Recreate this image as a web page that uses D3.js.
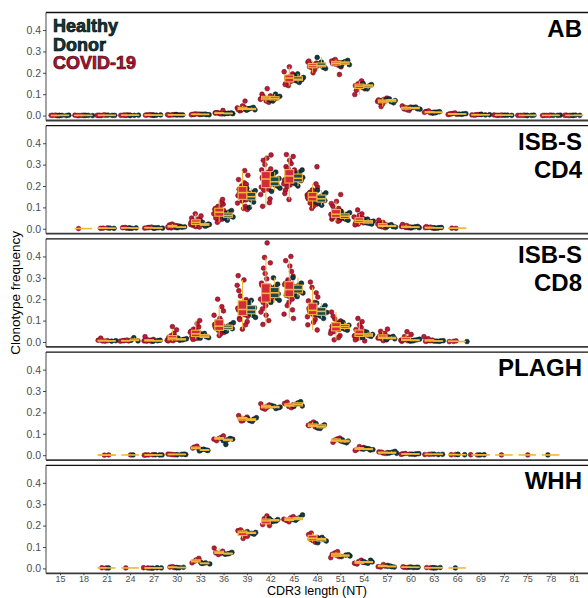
<!DOCTYPE html>
<html><head><meta charset="utf-8">
<script src="https://cdn.jsdelivr.net/npm/d3@7"></script>
<style>
body{margin:0;background:#fff}
svg{display:block}
text{font-family:"Liberation Sans",Arial,Helvetica,sans-serif}
</style>
</head><body>
<svg id="chart" width="588" height="598"></svg>
<script>
// CDR3 lengths (nucleotides) on the x axis
const lengths = [15,18,21,24,27,30,33,36,39,42,45,48,51,54,57,60,63,66,69,72,75,78,81];
const yTicks = [0, 0.1, 0.2, 0.3, 0.4];
const groupNames = ["COVID-19", "Healthy Donor"];

// Per-sample clonotype frequencies, keyed by CDR3 length
const abCovid = {
  15:[0.000,0.001,0.000,0.002,0.001,0.000], 18:[0.001,0.000,0.002,0.001,0.000,0.001],
  21:[0.001,0.002,0.000,0.001,0.003,0.001], 24:[0.002,0.001,0.003,0.002,0.000,0.001],
  27:[0.002,0.003,0.001,0.004,0.002,0.003], 30:[0.003,0.004,0.002,0.005,0.003,0.004],
  33:[0.006,0.005,0.008,0.004,0.007,0.005,0.006],
  36:[0.010,0.012,0.008,0.014,0.011,0.009,0.013,0.024],
  39:[0.030,0.026,0.036,0.040,0.022,0.033,0.045,0.028,0.068,0.031],
  42:[0.079,0.072,0.085,0.092,0.068,0.100,0.062,0.082,0.076,0.126,0.088],
  45:[0.173,0.165,0.182,0.150,0.195,0.140,0.205,0.160,0.178,0.188,0.228,0.145],
  48:[0.236,0.228,0.245,0.222,0.250,0.215,0.240,0.232,0.200,0.255],
  51:[0.247,0.240,0.255,0.235,0.258,0.228,0.250,0.243,0.192,0.262],
  54:[0.140,0.132,0.148,0.125,0.155,0.118,0.145,0.136,0.098,0.162],
  57:[0.071,0.066,0.076,0.060,0.082,0.055,0.073,0.068,0.042],
  60:[0.036,0.032,0.040,0.028,0.045,0.024,0.038],
  63:[0.016,0.013,0.019,0.011,0.022,0.015], 66:[0.008,0.006,0.010,0.005,0.012,0.007],
  69:[0.004,0.003,0.005,0.002,0.006], 72:[0.002,0.001,0.003,0.002,0.001],
  75:[0.001,0.002,0.001,0.000,0.001], 78:[0.001,0.002,0.001,0.000,0.001], 81:[0.001,0.002,0.001,0.000,0.001]
};
const abHealthy = {
  15:[0.001,0.000,0.001,0.002], 18:[0.001,0.000,0.001], 21:[0.001,0.002,0.001],
  24:[0.002,0.001,0.002], 27:[0.002,0.003,0.002], 30:[0.003,0.004,0.003],
  33:[0.005,0.006,0.004,0.007], 36:[0.009,0.011,0.008,0.012,0.010],
  39:[0.030,0.027,0.034,0.025,0.038,0.032], 42:[0.077,0.072,0.083,0.068,0.090,0.100],
  45:[0.170,0.162,0.178,0.155,0.185,0.168,0.195], 48:[0.234,0.226,0.242,0.220,0.250,0.272,0.230],
  51:[0.245,0.238,0.252,0.232,0.258,0.248], 54:[0.138,0.130,0.145,0.125,0.150,0.140],
  57:[0.070,0.065,0.075,0.060,0.078], 60:[0.035,0.032,0.038,0.030,0.040],
  63:[0.016,0.014,0.018,0.013], 66:[0.008,0.007,0.009,0.006], 69:[0.004,0.003,0.005],
  72:[0.002,0.001,0.002], 75:[0.001,0.001,0.002], 78:[0.001,0.001,0.002], 81:[0.001,0.001,0.002]
};

const cd4Covid = {
  18:[0.001], 21:[0.002,0.004,0.003], 24:[0.003,0.005,0.004,0.006],
  27:[0.004,0.006,0.003,0.008,0.005],
  30:[0.006,0.010,0.004,0.014,0.008,0.018,0.012,0.022,0.009,0.016],
  33:[0.028,0.020,0.035,0.015,0.042,0.010,0.050,0.025,0.032,0.060,0.018,0.038,0.008,0.070,0.030,0.045,0.022],
  36:[0.075,0.065,0.085,0.055,0.095,0.045,0.105,0.070,0.080,0.060,0.115,0.040,0.090,0.125,0.030,0.072,0.100,0.050,0.137,0.082],
  39:[0.168,0.150,0.185,0.135,0.200,0.120,0.215,0.160,0.175,0.145,0.230,0.105,0.190,0.250,0.095,0.170,0.208,0.130,0.155,0.272,0.182,0.090],
  42:[0.230,0.210,0.250,0.195,0.265,0.180,0.280,0.220,0.240,0.200,0.300,0.160,0.255,0.320,0.140,0.235,0.275,0.185,0.215,0.345,0.330,0.105,0.122,0.245],
  45:[0.246,0.230,0.260,0.215,0.275,0.205,0.290,0.240,0.252,0.225,0.305,0.195,0.268,0.320,0.180,0.248,0.282,0.210,0.235,0.347,0.338,0.137,0.165,0.256],
  48:[0.146,0.135,0.158,0.125,0.170,0.115,0.182,0.140,0.152,0.130,0.195,0.105,0.165,0.210,0.095,0.148,0.176,0.120,0.290,0.138,0.160],
  51:[0.067,0.058,0.076,0.050,0.085,0.045,0.095,0.062,0.072,0.055,0.105,0.040,0.080,0.118,0.035,0.068,0.160,0.128,0.052],
  54:[0.036,0.030,0.042,0.026,0.048,0.022,0.055,0.034,0.039,0.028,0.062,0.018,0.070,0.088,0.045],
  57:[0.015,0.012,0.018,0.009,0.022,0.007,0.026,0.014,0.030,0.040,0.005],
  60:[0.008,0.006,0.010,0.005,0.012,0.004,0.015,0.020,0.007],
  63:[0.005,0.004,0.006,0.003,0.008,0.010,0.004], 66:[0.002,0.003]
};
const cd4Healthy = {
  21:[0.002,0.003], 24:[0.003,0.004,0.002], 27:[0.004,0.003,0.005,0.002],
  30:[0.007,0.005,0.009,0.011,0.006], 33:[0.022,0.018,0.026,0.015,0.030,0.020,0.012],
  36:[0.065,0.060,0.072,0.055,0.078,0.050,0.085,0.040],
  39:[0.160,0.150,0.170,0.142,0.178,0.135,0.190,0.125,0.100],
  42:[0.225,0.215,0.235,0.205,0.245,0.200,0.255,0.190,0.265,0.175],
  45:[0.240,0.232,0.250,0.225,0.258,0.218,0.265,0.210,0.275,0.200],
  48:[0.140,0.132,0.150,0.125,0.158,0.118,0.168,0.110,0.180],
  51:[0.062,0.056,0.068,0.050,0.075,0.045,0.082,0.040],
  54:[0.032,0.028,0.036,0.025,0.040,0.022,0.045],
  57:[0.013,0.010,0.016,0.008,0.019,0.011], 60:[0.007,0.005,0.009,0.006,0.011],
  63:[0.005,0.004,0.006,0.003]
};

const cd8Covid = {
  21:[0.005,0.008,0.004,0.018,0.006], 24:[0.005,0.007,0.004,0.009,0.006],
  27:[0.005,0.008,0.004,0.012,0.006,0.025,0.003,0.010],
  30:[0.010,0.015,0.006,0.022,0.012,0.030,0.008,0.040,0.018,0.057,0.072,0.005,0.025],
  33:[0.035,0.028,0.042,0.022,0.050,0.018,0.060,0.032,0.038,0.025,0.070,0.015,0.045,0.085,0.012,0.100,0.055],
  36:[0.070,0.060,0.082,0.052,0.095,0.045,0.110,0.065,0.076,0.055,0.125,0.038,0.088,0.145,0.030,0.072,0.165,0.200,0.048,0.102],
  39:[0.150,0.135,0.165,0.120,0.180,0.110,0.198,0.145,0.158,0.128,0.215,0.095,0.172,0.240,0.080,0.152,0.265,0.290,0.105,0.188,0.060,0.310,0.140],
  42:[0.220,0.200,0.240,0.185,0.258,0.170,0.275,0.210,0.230,0.192,0.295,0.155,0.250,0.320,0.140,0.225,0.345,0.370,0.125,0.265,0.100,0.395,0.205,0.463,0.082,0.235],
  45:[0.243,0.225,0.260,0.212,0.274,0.200,0.290,0.235,0.250,0.218,0.308,0.185,0.268,0.330,0.170,0.245,0.355,0.380,0.150,0.282,0.130,0.400,0.228,0.110,0.256],
  48:[0.146,0.135,0.158,0.126,0.165,0.118,0.178,0.140,0.152,0.130,0.192,0.105,0.170,0.210,0.092,0.148,0.230,0.255,0.080,0.185,0.280,0.056,0.138],
  51:[0.070,0.062,0.078,0.053,0.089,0.048,0.098,0.066,0.074,0.058,0.108,0.040,0.084,0.120,0.030,0.072,0.140,0.020,0.010,0.094],
  54:[0.036,0.030,0.042,0.025,0.050,0.020,0.058,0.033,0.039,0.028,0.068,0.015,0.045,0.080,0.010,0.095,0.110,0.005],
  57:[0.020,0.016,0.024,0.012,0.028,0.010,0.033,0.018,0.040,0.050,0.060,0.006,0.022],
  60:[0.008,0.006,0.011,0.004,0.014,0.003,0.018,0.025,0.035,0.048,0.009],
  63:[0.005,0.004,0.007,0.003,0.009,0.015,0.025,0.006], 66:[0.003,0.002,0.005]
};
const cd8Healthy = {
  21:[0.006,0.004], 24:[0.008,0.005,0.020], 27:[0.006,0.004,0.008],
  30:[0.012,0.008,0.015,0.010,0.018], 33:[0.030,0.025,0.036,0.020,0.040,0.018],
  36:[0.068,0.062,0.075,0.055,0.082,0.050,0.090],
  39:[0.150,0.140,0.160,0.132,0.170,0.125,0.180,0.115,0.195],
  42:[0.225,0.215,0.235,0.205,0.245,0.195,0.258,0.185,0.270,0.300],
  45:[0.245,0.235,0.255,0.229,0.266,0.222,0.275,0.212,0.300],
  48:[0.148,0.138,0.158,0.126,0.170,0.120,0.182,0.110],
  51:[0.072,0.066,0.078,0.060,0.085,0.055,0.092],
  54:[0.035,0.030,0.040,0.026,0.046,0.022], 57:[0.018,0.015,0.022,0.012,0.026],
  60:[0.008,0.006,0.010,0.005,0.013], 63:[0.005,0.004,0.006,0.003], 66:[0.002]
};

const plaghCovid = {
  21:[0.001,0.000], 24:[0.001], 27:[0.001,0.002,0.001,0.000], 30:[0.003,0.005,0.002,0.004],
  33:[0.030,0.038,0.026,0.042,0.033], 36:[0.075,0.082,0.068,0.090,0.078],
  39:[0.170,0.178,0.162,0.185,0.172,0.160], 42:[0.228,0.220,0.235,0.215,0.240,0.225],
  45:[0.235,0.228,0.242,0.222,0.248,0.232], 48:[0.140,0.132,0.148,0.128,0.155,0.138],
  51:[0.070,0.065,0.076,0.060,0.080], 54:[0.030,0.026,0.036,0.040,0.022,0.032],
  57:[0.012,0.010,0.015,0.008,0.014], 60:[0.006,0.005,0.008,0.004], 63:[0.004,0.003,0.005],
  66:[0.003,0.002,0.004], 69:[0.002,0.001], 72:[0.001], 75:[0.001]
};
const plaghHealthy = {
  24:[0.001], 27:[0.001,0.002,0.001], 30:[0.003,0.004,0.002,0.005],
  33:[0.025,0.022,0.028,0.020,0.024], 36:[0.072,0.068,0.078,0.050,0.075],
  39:[0.168,0.162,0.175,0.158,0.170], 42:[0.225,0.218,0.232,0.222,0.228],
  45:[0.238,0.230,0.245,0.228,0.250], 48:[0.135,0.128,0.142,0.125,0.148],
  51:[0.066,0.062,0.070,0.058,0.072], 54:[0.028,0.024,0.032,0.026,0.030],
  57:[0.011,0.009,0.014,0.010,0.018], 60:[0.006,0.005,0.007,0.004], 63:[0.004,0.003,0.005],
  66:[0.003,0.002], 69:[0.002,0.001], 78:[0.001]
};

const whhCovid = {
  21:[0.002,0.003], 24:[0.002], 27:[0.002,0.003,0.001], 30:[0.004,0.006,0.003,0.008],
  33:[0.030,0.040,0.026,0.047,0.034], 36:[0.073,0.080,0.065,0.095,0.070],
  39:[0.171,0.176,0.165,0.180,0.150,0.140], 42:[0.226,0.232,0.218,0.245,0.205,0.200],
  45:[0.230,0.236,0.224,0.242,0.218], 48:[0.137,0.145,0.130,0.158,0.122,0.165],
  51:[0.060,0.066,0.055,0.072,0.050,0.078], 54:[0.028,0.032,0.024,0.038,0.020],
  57:[0.008,0.011,0.006,0.014,0.018], 60:[0.005,0.006,0.004,0.007], 63:[0.003,0.004,0.002]
};
const whhHealthy = {
  21:[0.002], 27:[0.002,0.003,0.001], 30:[0.004,0.005,0.003],
  33:[0.023,0.021,0.026,0.024], 36:[0.070,0.066,0.075,0.068],
  39:[0.168,0.164,0.172,0.160], 42:[0.225,0.228,0.220,0.232,0.222],
  45:[0.232,0.228,0.238,0.225,0.250], 48:[0.135,0.140,0.128,0.145,0.120],
  51:[0.058,0.062,0.055,0.064], 54:[0.027,0.030,0.024,0.032,0.038],
  57:[0.008,0.010,0.006,0.011], 60:[0.005,0.004,0.006,0.005], 63:[0.003,0.004,0.002], 66:[0.002]
};

const panels = [
  {label:["AB"], series:[abCovid, abHealthy]},
  {label:["ISB-S","CD4"], series:[cd4Covid, cd4Healthy]},
  {label:["ISB-S","CD8"], series:[cd8Covid, cd8Healthy]},
  {label:["PLAGH"], series:[plaghCovid, plaghHealthy]},
  {label:["WHH"], series:[whhCovid, whhHealthy]}
];

// ---- styling ----
const fills = ["#bd1a33", "#0f3a41"];
const strokes = ["#5c0a16", "#050f12"];
const boxStroke = "#f2b638";
const left = 46, right = 588;
const top0 = 12.5, panelStep = 113.2, panelH = 108;

const svg = d3.select("#chart");

const x = d3.scalePoint().domain(lengths).range([left, right]).padding(0.6);
const step = x.step();
const boxTotal = step * 0.75;
const jitterHalf = 5.5;

function boxStats(v) {
  const s = v.slice().sort(d3.ascending);
  const q1 = d3.quantile(s, 0.25), med = d3.quantile(s, 0.5), q3 = d3.quantile(s, 0.75);
  const iqr = q3 - q1;
  const lo = d3.min(s.filter(d => d >= q1 - 1.5 * iqr));
  const hi = d3.max(s.filter(d => d <= q3 + 1.5 * iqr));
  return {q1, med, q3, lo, hi};
}

panels.forEach((p, pi) => {
  const top = top0 + pi * panelStep, bottom = top + panelH;
  const y = d3.scaleLinear().domain([-0.023, 0.482]).range([bottom, top]);
  const g = svg.append("g");

  // y axis
  const ya = g.append("g").attr("transform", `translate(${left},0)`)
    .call(d3.axisLeft(y).tickValues(yTicks).tickFormat(d3.format(".1f")).tickSize(3).tickPadding(2));
  ya.select(".domain").remove();
  ya.selectAll(".tick line").attr("stroke", "#333").attr("stroke-width", 0.9);
  ya.selectAll(".tick text").attr("fill", "#4d4d4d").style("font-size", "10.5px")
    .style("font-family", '"Liberation Sans",Arial,sans-serif');
  g.append("line").attr("x1", left).attr("x2", left).attr("y1", top).attr("y2", bottom)
    .attr("stroke", "#333").attr("stroke-width", 0.9);

  // points then boxes, per length
  const pts = g.append("g"), boxes = g.append("g");
  lengths.forEach((len, li) => {
    const present = p.series.map(s => s[len] && s[len].length ? s[len] : null);
    const nPresent = present.filter(Boolean).length;
    const bw = nPresent === 2 ? boxTotal / 2 : boxTotal;
    present.forEach((vals, gi) => {
      if (!vals) return;
      const cx = x(len) + (nPresent === 2 ? (gi === 0 ? -1 : 1) * boxTotal / 4 : 0);
      vals.forEach((v, k) => {
        const frac = ((k + 1) * 0.6180339887 + li * 0.271 + gi * 0.43 + pi * 0.17) % 1;
        pts.append("circle")
          .attr("cx", cx + (frac - 0.5) * 2 * jitterHalf)
          .attr("cy", y(v))
          .attr("r", 2.4)
          .attr("fill", fills[gi])
          .attr("stroke", strokes[gi])
          .attr("stroke-width", 0.5);
      });
      const st = boxStats(vals);
      boxes.append("line").attr("x1", cx).attr("x2", cx).attr("y1", y(st.hi)).attr("y2", y(st.q3))
        .attr("stroke", boxStroke).attr("stroke-width", 1);
      boxes.append("line").attr("x1", cx).attr("x2", cx).attr("y1", y(st.q1)).attr("y2", y(st.lo))
        .attr("stroke", boxStroke).attr("stroke-width", 1);
      boxes.append("rect").attr("x", cx - bw / 2).attr("width", bw)
        .attr("y", y(st.q3)).attr("height", Math.max(0, y(st.q1) - y(st.q3)))
        .attr("fill", gi === 0 ? "#d42a3c" : "#1b4a50").attr("stroke", boxStroke).attr("stroke-width", 1.1);
      boxes.append("line").attr("x1", cx - bw / 2).attr("x2", cx + bw / 2)
        .attr("y1", y(st.med)).attr("y2", y(st.med))
        .attr("stroke", boxStroke).attr("stroke-width", 1.6);
    });
  });

  // panel frame: top border and bottom axis line
  g.append("line").attr("x1", left).attr("x2", right).attr("y1", top).attr("y2", top)
    .attr("stroke", "#111").attr("stroke-width", 1.3);
  g.append("line").attr("x1", left).attr("x2", right).attr("y1", bottom).attr("y2", bottom)
    .attr("stroke", "#3a3a3a").attr("stroke-width", 1.8);

  // facet label
  const lab = g.append("text").attr("text-anchor", "end").attr("fill", "#000")
    .style("font-size", "24px").style("font-weight", "bold");
  p.label.forEach((t, i) => {
    lab.append("tspan").attr("x", 582).attr("y", top + 24 + i * 28).text(t);
  });

  // x axis on the last panel
  if (pi === panels.length - 1) {
    const xa = g.append("g").attr("transform", `translate(0,${bottom})`)
      .call(d3.axisBottom(x).tickSize(2).tickPadding(0.5));
    xa.select(".domain").remove();
    xa.selectAll(".tick line").attr("stroke", "#333").attr("stroke-width", 0.9);
    xa.selectAll(".tick text").attr("fill", "#4d4d4d").style("font-size", "9px")
      .style("font-family", '"Liberation Sans",Arial,sans-serif');
  }
});

// legend text in the first panel
const legend = svg.append("text").style("font-size", "18px").style("font-weight", "bold")
  .attr("stroke-width", 0.7);
[["Healthy", 1], ["Donor", 1], ["COVID-19", 0]].forEach(([t, gi], i) => {
  legend.append("tspan").attr("x", 53).attr("y", 32 + i * 18.6).text(t)
    .attr("fill", gi === 1 ? "#0f3a41" : "#bd1030")
    .attr("stroke", gi === 1 ? "#020809" : "#3b0610");
});

// axis titles
svg.append("text").attr("x", (left + right) / 2).attr("y", 595).attr("text-anchor", "middle")
  .style("font-size", "12.5px").attr("fill", "#000").text("CDR3 length (NT)");
svg.append("text").attr("transform", `translate(20,${(top0 + top0 + 4 * panelStep + panelH) / 2}) rotate(-90)`)
  .attr("text-anchor", "middle").style("font-size", "13.5px").attr("fill", "#000").text("Clonotype frequency");
</script>
</body></html>
